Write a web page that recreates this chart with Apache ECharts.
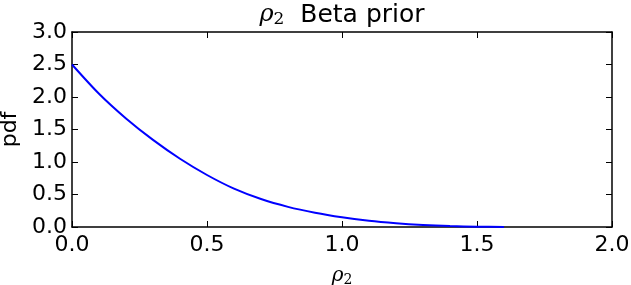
<!DOCTYPE html>
<html>
<head>
<meta charset="utf-8">
<script src="https://cdn.jsdelivr.net/npm/echarts@6/dist/echarts.min.js"></script>
<style>html,body{margin:0;padding:0;background:#fff}#c{width:631px;height:285px}</style>
</head>
<body>
<div id="c"></div>
<script>
const xValues = [0.0, 0.1, 0.2, 0.3, 0.4, 0.5, 0.6, 0.7, 0.8, 0.9, 1.0, 1.1, 1.2, 1.3, 1.4, 1.5, 1.6, 1.7, 1.8, 1.9, 2.0];
const pdfValues = [2.50, 2.05, 1.67, 1.34, 1.05, 0.80, 0.59, 0.43, 0.31, 0.22, 0.15, 0.095, 0.058, 0.032, 0.015, 0.005, 0.0, 0.0, 0.0, 0.0, 0.0];
const xTicks = [0.0, 0.5, 1.0, 1.5, 2.0];
const yTicks = [0.0, 0.5, 1.0, 1.5, 2.0, 2.5, 3.0];
const lineEnd = 1.6;

const chart = echarts.init(document.getElementById('c'), null, {renderer: 'canvas'});
const font = 'DejaVu Sans';
const pts = [];
for (let i = 0; i < xValues.length; i++) {
  if (xValues[i] <= lineEnd + 1e-9) pts.push([xValues[i], pdfValues[i]]);
}
const axisCommon = (pos, showLabel, mn, mx, iv) => ({
  type: 'value', position: pos, min: mn, max: mx, interval: iv,
  axisLine: {show: true, onZero: false, lineStyle: {color: '#000', width: 1.5}},
  axisTick: {show: true, inside: true, length: 6, lineStyle: {color: '#000', width: 1}},
  axisLabel: {show: showLabel, color: '#000', fontFamily: font, fontSize: 22,
    formatter: v => v.toFixed(1)},
  splitLine: {show: false}
});
const xb = axisCommon('bottom', true, xTicks[0], xTicks[xTicks.length-1], 0.5);
xb.axisLabel.margin = 7;
xb.name = '{r|ρ}{s|2}';
xb.nameLocation = 'middle';
xb.nameGap = 38;
xb.nameTextStyle = {rich: {
  r: {fontFamily: 'DejaVu Serif', fontStyle: 'italic', fontSize: 20, color: '#000'},
  s: {fontFamily: 'DejaVu Serif', fontSize: 14, color: '#000', padding: [8, 0, 0, 0]}
}};
const xt = axisCommon('top', false, xTicks[0], xTicks[xTicks.length-1], 0.5);
const yl = axisCommon('left', true, yTicks[0], yTicks[yTicks.length-1], 0.5);
yl.axisLabel.margin = 5;
yl.name = 'pdf';
yl.nameLocation = 'middle';
yl.nameGap = 46;
yl.nameTextStyle = {fontFamily: font, fontSize: 22, color: '#000'};
const yr = axisCommon('right', false, yTicks[0], yTicks[yTicks.length-1], 0.5);

chart.setOption({
  animation: false,
  grid: {left: 72, right: 19, top: 32, bottom: 58, containLabel: false, outerBoundsMode: 'none'},
  xAxis: [xb, xt],
  yAxis: [yl, yr],
  graphic: [{
    type: 'text', x: 342, y: 2,
    style: {
      text: '{r|ρ}{s|2}{t|  Beta prior}',
      align: 'center',
      rich: {
        r: {fontFamily: 'DejaVu Serif', fontStyle: 'italic', fontSize: 24, color: '#000'},
        s: {fontFamily: 'DejaVu Serif', fontSize: 17, color: '#000', padding: [9, 0, 0, 0]},
        t: {fontFamily: font, fontSize: 25, color: '#000'}
      }
    }
  }],
  series: [{
    type: 'line', xAxisIndex: 0, yAxisIndex: 0, data: pts, smooth: 0.3,
    showSymbol: false, lineStyle: {color: '#0000ff', width: 2}
  }]
});
</script>
</body>
</html>
